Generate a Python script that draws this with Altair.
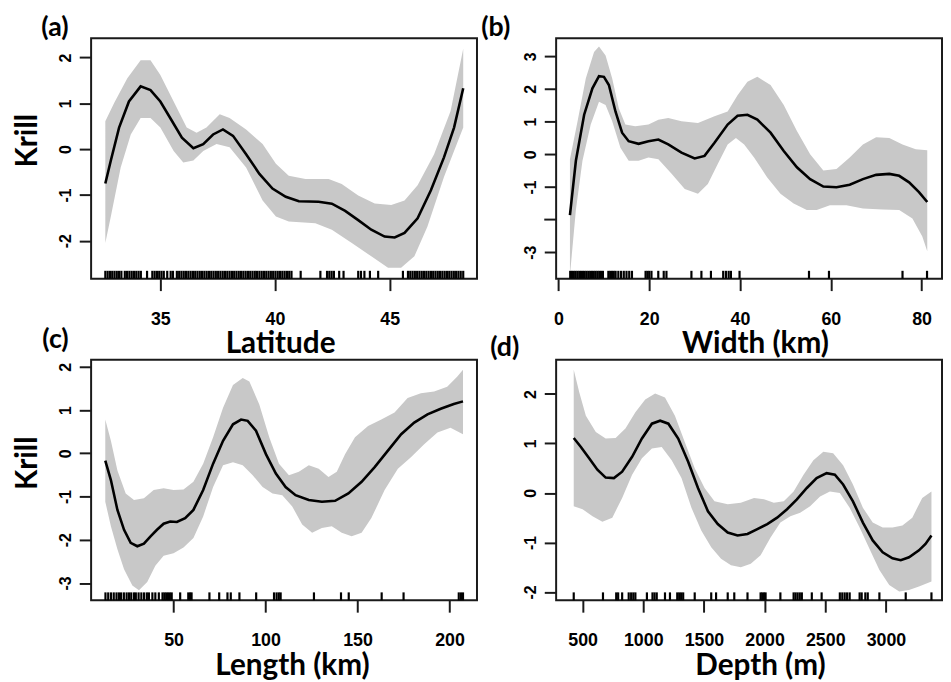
import altair as alt
import pandas as pd

# ---------------- data ----------------
panel_tags = ["(a)", "(b)", "(c)", "(d)"]
x_titles = ["Latitude", "Width (km)", "Length (km)", "Depth (m)"]
y_title = "Krill"

# (a) Latitude
lat_fit_x = [32.6, 32.84, 33.2, 33.63, 34.14, 34.57, 35.0, 35.43, 35.94, 36.44, 36.87, 37.3, 37.73, 38.17, 38.74, 39.32,
             39.89, 40.47, 41.04, 41.9, 42.48, 43.06, 43.63, 44.2, 44.78, 45.22, 45.65, 46.22, 46.8, 47.37, 47.81, 48.21]
lat_fit_y = [-0.75, -0.25, 0.47, 1.04, 1.37, 1.29, 1.04, 0.68, 0.25, 0.02, 0.11, 0.32, 0.43, 0.29, -0.11, -0.54,
             -0.86, -1.04, -1.14, -1.15, -1.19, -1.35, -1.55, -1.76, -1.91, -1.93, -1.83, -1.51, -0.9, -0.18, 0.47, 1.33]
lat_hi_x = [32.6, 32.99, 33.56, 34.14, 34.57, 35.0, 35.58, 36.15, 36.58, 37.01, 37.59, 38.02, 38.74, 39.46, 40.04, 40.6,
            41.33, 42.34, 42.91, 43.63, 44.35, 45.07, 45.65, 46.22, 46.94, 47.66, 48.21]
lat_hi_y = [0.61, 1.01, 1.55, 1.94, 1.94, 1.62, 1.04, 0.47, 0.36, 0.47, 0.76, 0.68, 0.43, 0.11, -0.32, -0.58,
            -0.65, -0.65, -0.76, -1.01, -1.19, -1.22, -1.12, -0.79, -0.11, 0.83, 2.19]
lat_lo_x = [32.6, 32.84, 33.27, 33.71, 34.14, 34.57, 35.0, 35.58, 36.0, 36.44, 36.87, 37.45, 38.02, 38.74, 39.46, 40.04,
            40.6, 41.76, 42.48, 43.35, 44.2, 44.93, 45.5, 46.08, 46.65, 47.37, 47.81, 48.21]
lat_lo_y = [-2.05, -1.47, -0.40, 0.32, 0.68, 0.68, 0.47, -0.04, -0.29, -0.25, -0.04, 0.11, 0.04, -0.40, -1.12, -1.47,
            -1.58, -1.62, -1.76, -2.05, -2.34, -2.59, -2.59, -2.34, -1.69, -0.61, -0.04, 0.47]
lat_rug = [32.6, 32.7, 32.8, 32.9, 33.0, 33.1, 33.2, 33.3, 33.45, 33.55, 33.65, 33.75, 33.85, 33.95, 34.05, 34.15,
           34.42, 34.65, 34.75, 34.85, 34.95, 35.05, 35.15, 35.3, 35.45, 35.55,
           35.72, 35.82, 35.92, 36.02, 36.12, 36.22, 36.32, 36.42, 36.52, 36.62, 36.72, 36.82, 36.92, 37.02, 37.12,
           37.22, 37.32, 37.42, 37.52, 37.62, 37.72, 37.82, 37.92, 38.02, 38.12, 38.22, 38.32, 38.42, 38.52, 38.62,
           38.72, 38.82, 38.92, 39.02, 39.12, 39.22, 39.32, 39.42, 39.52, 39.62, 39.72, 39.82, 39.92, 40.02, 40.12,
           40.22, 40.32, 40.42, 40.52, 40.62, 40.72, 41.12, 41.98, 42.27, 42.37, 42.47, 42.57, 42.8, 42.99,
           43.63, 43.75, 43.9, 44.14, 44.5, 45.58, 45.8, 45.9, 46.0, 46.1, 46.2, 46.3, 46.4, 46.5, 46.6, 46.7, 46.8,
           46.9, 47.0, 47.1, 47.2, 47.3, 47.4, 47.5, 47.6, 47.7, 47.8, 47.9, 48.0, 48.1, 48.21]

# (b) Width
wid_fit_x = [2.54, 3.85, 5.67, 7.49, 8.94, 10.03, 11.12, 12.57, 14.03, 15.48, 17.66, 19.84, 22.02, 24.2, 27.11, 30.01,
             32.19, 34.38, 37.28, 39.46, 41.64, 43.82, 46.73, 49.64, 52.54, 55.45, 58.36, 61.26, 64.17, 67.08, 69.99,
             72.89, 75.07, 77.25, 79.43, 81.25]
wid_fit_y = [-1.86, -0.2, 1.21, 2.02, 2.39, 2.37, 2.12, 1.31, 0.66, 0.40, 0.32, 0.40, 0.45, 0.30, 0.05, -0.13,
             -0.05, 0.35, 0.91, 1.18, 1.21, 1.06, 0.66, 0.10, -0.40, -0.76, -0.99, -1.01, -0.93, -0.76, -0.63,
             -0.60, -0.66, -0.86, -1.16, -1.46]
wid_hi_x = [2.54, 4.22, 6.03, 7.85, 8.94, 10.39, 11.85, 13.3, 14.75, 16.93, 19.84, 22.02, 24.2, 27.11, 30.74, 34.38,
            37.28, 39.46, 41.64, 43.82, 46.73, 49.64, 52.54, 55.45, 58.36, 61.26, 64.17, 67.08, 69.99, 72.89, 75.8,
            78.71, 81.25]
wid_hi_y = [-0.15, 1.01, 2.32, 3.13, 3.30, 3.02, 2.32, 1.41, 0.91, 0.86, 0.91, 1.06, 1.11, 1.01, 0.96, 1.16,
            1.31, 1.81, 2.22, 2.37, 2.12, 1.51, 0.71, 0.0, -0.50, -0.45, -0.10, 0.30, 0.52, 0.50, 0.30, 0.15, 0.12]
wid_lo_x = [2.54, 3.85, 5.3, 7.12, 8.94, 10.39, 11.85, 13.66, 15.48, 17.66, 19.84, 22.02, 24.93, 27.83, 30.74, 32.92,
            35.1, 37.28, 39.1, 40.92, 43.1, 46.0, 48.91, 51.82, 54.72, 56.9, 59.81, 63.44, 67.08, 71.44, 75.07,
            77.98, 80.16, 81.25]
wid_lo_y = [-3.7, -1.71, -0.2, 0.91, 1.61, 1.51, 1.01, 0.20, -0.20, -0.20, -0.10, -0.15, -0.60, -1.06, -1.21, -0.91,
            -0.30, 0.30, 0.50, 0.30, -0.10, -0.71, -1.21, -1.51, -1.71, -1.71, -1.56, -1.56, -1.66, -1.69, -1.71,
            -1.97, -2.52, -2.97]
wid_rug = [2.6, 3.0, 3.4, 3.8, 4.2, 4.6, 5.0, 5.4, 5.8, 6.2, 6.6, 7.0, 7.4, 7.8, 8.2, 8.6, 9.0, 9.4, 9.8,
           11.0, 11.4, 11.8, 12.2, 12.6, 13.2, 13.8, 14.4, 15.0, 15.6, 16.2, 19.2, 19.6, 20.0, 20.5, 22.0,
           23.2, 23.8, 29.3, 31.5, 33.6, 36.3, 36.9, 37.5, 38.0, 39.9, 55.2, 59.6, 75.8, 81.2]

# (c) Length
len_fit_x = [12.9, 15.95, 19.5, 23.1, 26.7, 30.3, 33.9, 37.5, 41.0, 44.6, 48.2, 51.8, 56.3, 60.8, 66.1, 71.5, 76.9,
             82.3, 86.7, 90.3, 94.8, 100.2, 105.6, 110.9, 116.3, 123.5, 130.6, 137.8, 145.0, 152.2, 159.3, 166.5,
             173.7, 180.8, 188.0, 195.2, 202.3, 207.3]
len_fit_y = [-0.17, -0.62, -1.31, -1.77, -2.07, -2.15, -2.09, -1.92, -1.77, -1.63, -1.58, -1.59, -1.50, -1.31, -0.85,
             -0.24, 0.29, 0.67, 0.78, 0.75, 0.52, -0.02, -0.47, -0.78, -0.97, -1.08, -1.12, -1.10, -0.93, -0.66,
             -0.32, 0.06, 0.44, 0.71, 0.90, 1.03, 1.14, 1.20]
len_hi_x = [12.9, 15.95, 19.5, 24.0, 28.5, 33.9, 39.2, 44.6, 50.0, 55.4, 60.8, 66.1, 71.5, 76.9, 82.3, 87.6, 91.2,
            96.6, 102.0, 107.3, 112.7, 118.1, 123.5, 128.9, 134.2, 138.7, 143.2, 148.6, 155.7, 162.9, 170.1, 177.2,
            184.4, 191.6, 198.7, 204.1, 207.3]
len_hi_y = [0.78, 0.29, -0.40, -0.93, -1.08, -1.04, -0.85, -0.81, -0.85, -0.84, -0.66, -0.24, 0.37, 1.05, 1.58, 1.74,
            1.66, 1.13, 0.37, -0.24, -0.51, -0.43, -0.28, -0.36, -0.55, -0.43, -0.02, 0.37, 0.63, 0.78, 0.94, 1.28,
            1.39, 1.43, 1.54, 1.77, 1.93]
len_lo_x = [12.9, 15.95, 19.5, 23.1, 27.6, 31.2, 35.7, 40.1, 44.6, 50.0, 55.4, 60.8, 66.1, 71.5, 76.9, 82.3, 87.6,
            93.0, 98.4, 103.8, 109.1, 114.5, 119.9, 125.3, 130.6, 136.0, 141.4, 146.8, 152.2, 157.5, 164.7, 171.9,
            179.0, 186.2, 193.4, 200.5, 207.3]
len_lo_y = [-1.12, -1.69, -2.22, -2.68, -3.06, -3.17, -2.98, -2.60, -2.37, -2.31, -2.18, -1.96, -1.46, -0.78, -0.28,
            -0.21, -0.28, -0.51, -0.78, -0.93, -0.97, -1.23, -1.65, -1.84, -1.73, -1.69, -1.84, -1.92, -1.84, -1.50,
            -0.85, -0.36, -0.09, 0.21, 0.48, 0.59, 0.44]
len_rug = [13.0, 14.5, 16.0, 17.5, 19.0, 20.3, 21.5, 23.0, 24.5, 25.8, 27.0, 28.5, 29.5, 31.0, 32.5, 34.0, 35.5,
           36.6, 38.5, 40.1, 42.0, 44.0, 45.0, 46.0, 47.0, 48.0, 49.0, 53.6, 58.0, 59.0, 59.8, 69.5, 74.8, 79.3,
           81.1, 85.8, 94.9, 104.6, 106.0, 107.2, 108.2, 126.3, 141.0, 145.2, 163.1, 175.0, 205.0, 206.2, 207.3]

# (d) Depth
dep_fit_x = [427, 486, 554, 622, 690, 758, 826, 908, 989, 1071, 1139, 1207, 1288, 1370, 1451, 1533, 1614, 1696, 1777,
             1859, 1940, 2022, 2103, 2185, 2266, 2348, 2429, 2511, 2579, 2647, 2728, 2810, 2891, 2973, 3054, 3122,
             3190, 3272, 3326, 3375]
dep_fit_y = [1.11, 0.93, 0.70, 0.47, 0.31, 0.30, 0.43, 0.73, 1.10, 1.40, 1.46, 1.40, 1.10, 0.63, 0.10, -0.37, -0.63,
             -0.80, -0.86, -0.83, -0.73, -0.63, -0.50, -0.33, -0.13, 0.10, 0.30, 0.40, 0.37, 0.17, -0.17, -0.60,
             -0.96, -1.20, -1.32, -1.36, -1.30, -1.16, -1.03, -0.86]
dep_hi_x = [427, 473, 527, 609, 690, 772, 853, 935, 1016, 1098, 1179, 1261, 1342, 1424, 1505, 1587, 1696, 1804, 1913,
            1995, 2076, 2158, 2239, 2321, 2402, 2484, 2565, 2647, 2728, 2810, 2891, 2973, 3054, 3136, 3217, 3299, 3375]
dep_hi_y = [2.49, 2.03, 1.56, 1.23, 1.10, 1.11, 1.30, 1.63, 1.89, 2.01, 1.93, 1.56, 1.03, 0.50, 0.10, -0.17, -0.23,
            -0.20, -0.10, -0.13, -0.20, -0.17, 0.03, 0.37, 0.66, 0.83, 0.80, 0.56, 0.17, -0.30, -0.60, -0.70, -0.70,
            -0.66, -0.50, -0.10, 0.03]
dep_lo_x = [427, 500, 582, 663, 745, 826, 908, 989, 1071, 1152, 1234, 1315, 1397, 1478, 1560, 1641, 1723, 1804, 1886,
            1967, 2049, 2130, 2212, 2293, 2375, 2457, 2538, 2620, 2701, 2783, 2864, 2946, 3027, 3109, 3190, 3272, 3375]
dep_lo_y = [-0.27, -0.33, -0.47, -0.58, -0.50, -0.10, 0.37, 0.70, 0.90, 0.93, 0.66, 0.30, -0.30, -0.76, -1.10, -1.33,
            -1.46, -1.50, -1.43, -1.26, -0.90, -0.60, -0.47, -0.40, -0.27, -0.07, 0.03, 0.0, -0.30, -0.70, -1.13,
            -1.56, -1.86, -1.99, -1.96, -1.89, -1.79]
dep_rug = [427, 668, 777, 793, 826, 880, 900, 918, 935, 1030, 1076, 1093, 1111, 1179, 1220, 1280, 1296, 1312, 1329,
           1424, 1560, 1600, 1696, 1750, 1859, 1967, 1980, 1995, 2008, 2130, 2239, 2255, 2272, 2290, 2307, 2389,
           2470, 2620, 2640, 2660, 2680, 2701, 2783, 2800, 2830, 2850, 2946, 3163, 3375]

# axis tick values (labelled) and unlabelled extra ticks
lat_ticks_x = [35, 40, 45]
wid_ticks_x = [0, 20, 40, 60, 80]
len_ticks_x = [50, 100, 150, 200]
dep_ticks_x = [500, 1000, 1500, 2000, 2500, 3000]
lat_ticks_y = [-2, -1, 0, 1, 2]
wid_ticks_y = [-3, -1, 0, 1, 2, 3]
wid_extra_ticks_y = [-2]
len_ticks_y = [-3, -2, -1, 0, 1, 2]
dep_ticks_y = [-2, -1, 0, 1, 2]

W, H = 390, 243
TICK = 12
BAND = "#c8c8c8"
DARK = "#1a1a1a"


def panel(fit_x, fit_y, hi_x, hi_y, lo_x, lo_y, rug, xdom, ydom, xticks, yticks,
          xtitle, title_x, tag, tag_x, tag_y, ytitle="", ytitle_y=103, extra_y=(), anchor=False):
    poly = pd.DataFrame({
        "x": list(hi_x) + list(reversed(lo_x)),
        "y": list(hi_y) + list(reversed(lo_y)),
    })
    poly["o"] = range(len(poly))
    fit = pd.DataFrame({"x": fit_x, "y": fit_y})
    rugdf = pd.DataFrame({"x": rug})

    X = alt.X("x:Q", scale=alt.Scale(domain=xdom, nice=False, zero=False),
              axis=alt.Axis(values=xticks, title=xtitle, titleX=title_x, labelExpr="'' + datum.value"))
    Y = alt.Y("y:Q", scale=alt.Scale(domain=ydom, nice=False, zero=False),
              axis=alt.Axis(values=yticks, title=ytitle, titleY=ytitle_y, labelExpr="'' + datum.value"))

    band = alt.Chart(poly).mark_line(filled=True, color=BAND, strokeWidth=0).encode(
        x=X, y=Y, order=alt.Order("o:Q"))
    line = alt.Chart(fit).mark_line(color="black", strokeWidth=2.6).encode(x=X, y=Y)
    rugs = alt.Chart(rugdf).mark_rule(color="black", strokeWidth=2.2).encode(
        x=X, y=alt.value(H - 8), y2=alt.value(H))
    lab = alt.Chart(pd.DataFrame({"t": [tag]})).mark_text(
        font="Lato", fontWeight="bold", fontSize=27, color="black", align="center", baseline="middle"
    ).encode(x=alt.value(tag_x), y=alt.value(tag_y), text="t:N")
    layers = [band, line, rugs, lab]
    if extra_y:
        layers.append(alt.Chart(pd.DataFrame({"y": list(extra_y)})).mark_rule(
            color=DARK, strokeWidth=2).encode(y=Y, x=alt.value(-TICK), x2=alt.value(0)))
    if anchor:
        mark = alt.Chart(pd.DataFrame({"t": [0]})).mark_rule(color="white", strokeWidth=0.1).encode(
            x=alt.value(-82), x2=alt.value(-81.9), y=alt.value(-25), y2=alt.value(-24.9))
        layers.append(mark)
    return alt.layer(*layers).properties(width=W, height=H)


pa = panel(lat_fit_x, lat_fit_y, lat_hi_x, lat_hi_y, lat_lo_x, lat_lo_y, lat_rug,
           [31.98, 48.81], [-2.83, 2.42], lat_ticks_x, lat_ticks_y,
           x_titles[0], 191, panel_tags[0], -36.5, -10, ytitle=y_title, ytitle_y=103, anchor=True)
pb = panel(wid_fit_x, wid_fit_y, wid_hi_x, wid_hi_y, wid_lo_x, wid_lo_y, wid_rug,
           [-0.5, 84.5], [-3.81, 3.55], wid_ticks_x, wid_ticks_y,
           x_titles[1], 201, panel_tags[1], -61, -10, extra_y=wid_extra_ticks_y)
pc = panel(len_fit_x, len_fit_y, len_hi_x, len_hi_y, len_lo_x, len_lo_y, len_rug,
           [5.2, 214.9], [-3.40, 2.16], len_ticks_x, len_ticks_y,
           x_titles[2], 203, panel_tags[2], -36, -19.5, ytitle=y_title, ytitle_y=104)
pd_ = panel(dep_fit_x, dep_fit_y, dep_hi_x, dep_hi_y, dep_lo_x, dep_lo_y, dep_rug,
            [282, 3462], [-2.17, 2.69], dep_ticks_x, dep_ticks_y,
            x_titles[3], 206, panel_tags[3], -52, -12)

chart = alt.concat(pa, pb, pc, pd_, columns=2, spacing={"row": 82, "column": 80}, bounds="flush").properties(
    padding=0
).configure_view(
    stroke=DARK, strokeWidth=2
).configure_axis(
    domain=False, grid=False, ticks=True, tickColor=DARK, tickWidth=2, tickSize=TICK,
    labelFont="Liberation Sans", labelFontWeight="bold", labelColor="black",
    labelFlush=False, labelOverlap=False,
    titleFont="Lato", titleFontWeight="bold", titleFontSize=30, titleColor="black"
).configure_axisX(
    labelFontSize=18, labelPadding=20, labelAngle=0,
    titleY=75, titleBaseline="alphabetic", titleAlign="center"
).configure_axisY(
    labelFontSize=16, labelAngle=270, labelAlign="center", labelBaseline="alphabetic",
    labelPadding=9, titleAngle=270, titleBaseline="alphabetic", titleX=-55, titleAlign="center"
)

chart.save("out.html", embed_options={"renderer": "svg", "actions": False})
